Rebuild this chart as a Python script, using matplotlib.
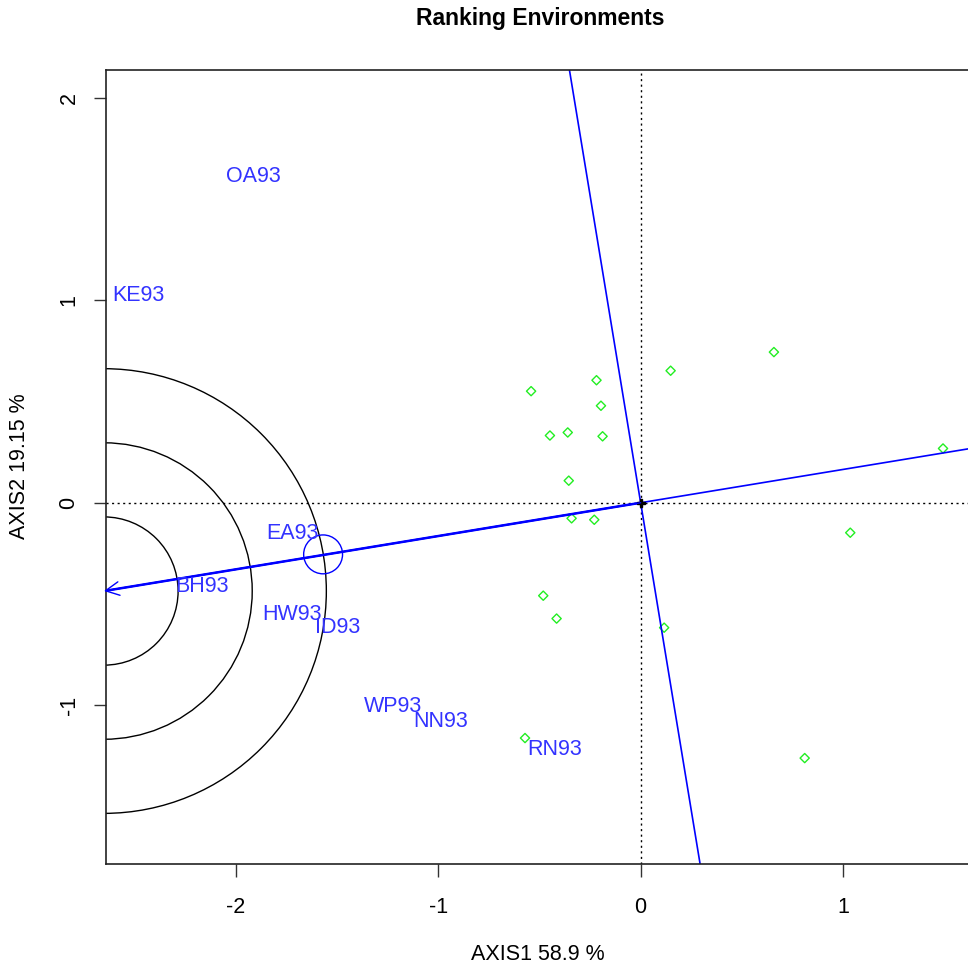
import matplotlib.pyplot as plt
from matplotlib.patches import Circle

plt.rcParams['font.family'] = ['Liberation Sans', 'DejaVu Sans']

# environment scores (label positions)
env_names = ["OA93", "KE93", "EA93", "BH93", "HW93", "ID93", "WP93", "NN93", "RN93"]
env_x = [-1.910, -2.482, -1.718, -2.165, -1.724, -1.498, -1.222, -0.988, -0.423]
env_y = [1.613, 1.025, -0.152, -0.412, -0.550, -0.617, -1.007, -1.078, -1.218]

# genotype scores
gen_x = [-0.541, -0.218, -0.196, 0.148, 0.658, -0.448, -0.360, -0.188, -0.355,
         -0.341, -0.229, 1.493, 1.035, -0.481, -0.415, 0.116, -0.571, 0.810]
gen_y = [0.551, 0.605, 0.479, 0.652, 0.744, 0.332, 0.347, 0.328, 0.109,
         -0.077, -0.084, 0.268, -0.148, -0.459, -0.572, -0.617, -1.162, -1.261]

# average environment and ideal environment
avg_env = (-1.568, -0.255)
avg_radius = 0.096
ideal_env = (-2.65, -0.436)
ring_radii = [0.366, 0.732, 1.098]

xlim = (-2.640, 1.646)
ylim = (-1.784, 2.137)

fig = plt.figure(figsize=(9.68, 9.73), dpi=100)
ax = fig.add_axes([106 / 968, 1 - 864 / 973, 868 / 968, 794 / 973])
ax.set_xlim(*xlim)
ax.set_ylim(*ylim)

ax.axhline(0, color="black", ls=(0, (1.5, 2.5)), lw=1)
ax.axvline(0, color="black", ls=(0, (1.5, 2.5)), lw=1)

# average environment axis and its perpendicular
slope = ideal_env[1] / ideal_env[0]
ax.axline((0, 0), slope=slope, color="blue", lw=1.2)
ax.axline((0, 0), slope=-1 / slope, color="blue", lw=1.2)
ax.plot([0, ideal_env[0]], [0, ideal_env[1]], color="blue", lw=1.8)
ax.annotate("", xy=ideal_env, xytext=(0, 0),
            arrowprops=dict(arrowstyle="->, head_length=0.7, head_width=0.35",
                            color="blue", lw=1.0,
                            mutation_scale=14, shrinkA=0, shrinkB=0),
            annotation_clip=False)

for r in ring_radii:
    ax.add_patch(Circle(ideal_env, r, fill=False, ec="black", lw=1))
ax.add_patch(Circle(avg_env, avg_radius, fill=False, ec="blue", lw=1))

ax.scatter(gen_x, gen_y, marker="D", s=22, facecolors="none",
           edgecolors="#22ee22", linewidths=1)
ax.plot(0, 0, marker="P", color="black", ms=6)

for name, x, y in zip(env_names, env_x, env_y):
    ax.text(x, y, name, color="#3333ff", fontsize=15.5, ha="center", va="center")

ax.set_xticks([-2, -1, 0, 1])
ax.set_xticklabels(["-2", "-1", "0", "1"])
ax.set_yticks([-1, 0, 1, 2])
ax.set_yticklabels(["-1", "0", "1", "2"])
ax.tick_params(axis="x", length=9, width=1, pad=15, labelsize=15.5, color="#333333")
ax.tick_params(axis="y", length=9, width=1, pad=10, labelsize=15.5, color="#333333")
for lab in ax.get_yticklabels():
    lab.set_rotation(90)
    lab.set_va("center")
for sp in ax.spines.values():
    sp.set_linewidth(1.2)
    sp.set_color("#222222")

fig.text(540 / 968, 1 - 18 / 973, "Ranking Environments", ha="center", va="center",
         fontsize=16.5, fontweight="bold")
fig.text(538 / 968, 1 - 955 / 973, "AXIS1 58.9 %", ha="center", va="center", fontsize=15.5)
fig.text(20 / 968, 1 - 466 / 973, "AXIS2 19.15 %", ha="center", va="center",
         rotation=90, fontsize=15.5)

fig.savefig("out.png", dpi=100)
